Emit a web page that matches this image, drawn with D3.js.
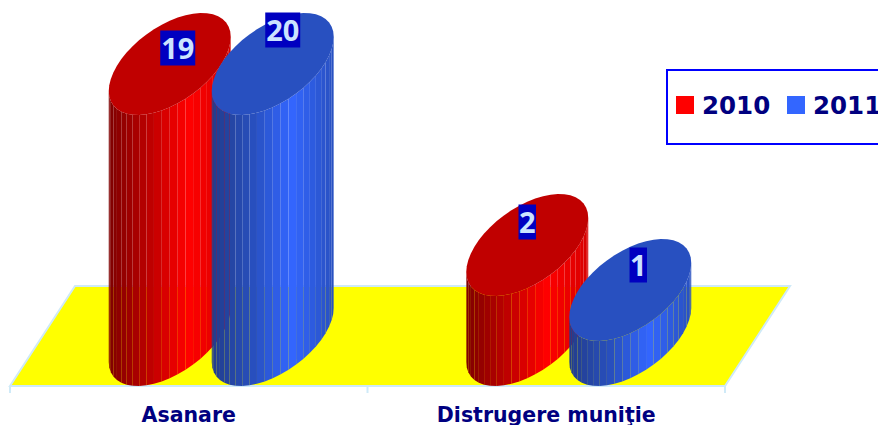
<!DOCTYPE html>
<html>
<head>
<meta charset="utf-8">
<script src="https://cdn.jsdelivr.net/npm/d3@7"></script>
<style>
  html, body { margin: 0; padding: 0; background: #fff; overflow: hidden; }
  text { font-family: "DejaVu Sans", sans-serif; font-weight: bold; }
</style>
</head>
<body>
<div id="chart"></div>
<script>
const categories = ["Asanare", "Distrugere muniţie"];
const seriesNames = ["2010", "2011"];
const values2010 = [19, 2];
const values2011 = [20, 1];

const width = 878, height = 425;
const floorY = 386, depthX = 65, depthY = 100;
const radX = 61, radY = 51, tilt = 32 * Math.PI / 180;
const facets = 24;

const seriesStyle = {
    "2010": { cap: "#c00000", swatch: "#ff0000", ramp: ["#7e0000", "#c00000", "#ff0000", "#d80000"] },
    "2011": { cap: "#2850c0", swatch: "#3366ff", ramp: ["#223c8c", "#2850c0", "#3366ff", "#2850c0"] }
};
// label nudges from the top of each cylinder
const labelShift = { "2010": [[8, -16], [0, -23]], "2011": [[10, -34], [8, -25]] };

const svg = d3.select("#chart").append("svg")
    .attr("width", width)
    .attr("height", height);

const x = d3.scaleBand().domain(categories).range([10, 725]);
const xSeries = d3.scalePoint().domain(seriesNames).range([-51, 52]);
// the 3D chart squeezes the tall bars, 19 and 20 end up at the same height
const y = d3.scaleLinear().domain([0, 1, 2, 19]).range([335, 290, 245, 64]).clamp(true);

// floor
svg.append("path")
    .attr("d", d3.line()([[10, floorY], [10 + depthX, floorY - depthY], [725 + depthX, floorY - depthY], [725, floorY]]) + "Z")
    .attr("fill", "#ffff00")
    .attr("stroke", "#cfeaf8")
    .attr("stroke-width", 2);

svg.append("g").selectAll("line")
    .data([10, 725].concat(x(categories[1])))
    .join("line")
    .attr("x1", d => d).attr("x2", d => d)
    .attr("y1", floorY).attr("y2", floorY + 7)
    .attr("stroke", "#cfeaf8")
    .attr("stroke-width", 2);

const ellipsePoint = (cx, cy, t) => [cx + radX * Math.cos(t), cy - radY * Math.sin(t + tilt)];

const drawCylinder = (cat, i, name, value) => {
    const style = seriesStyle[name];
    const cx = x(cat) + x.bandwidth() / 2 + 32 + xSeries(name);
    const top = y(value), bottom = y(0);
    const shade = d3.scaleLinear().domain([0, 0.35, 0.65, 1]).range(style.ramp);
    const g = svg.append("g");

    const strips = d3.range(facets).map(k => {
        const t0 = Math.PI + k * Math.PI / facets;
        const t1 = t0 + Math.PI / facets;
        return { t0, t1, u: (1 + Math.cos((t0 + t1) / 2)) / 2 };
    });

    g.selectAll("path.strip")
        .data(strips)
        .join("path")
        .attr("class", "strip")
        .attr("d", d => d3.line()([
            ellipsePoint(cx, top, d.t0), ellipsePoint(cx, top, d.t1),
            ellipsePoint(cx, bottom, d.t1), ellipsePoint(cx, bottom, d.t0)
        ]) + "Z")
        .attr("fill", d => shade(d.u));

    g.append("path")
        .attr("d", d3.line()(d3.range(48).map(k => ellipsePoint(cx, top, k * 2 * Math.PI / 48))) + "Z")
        .attr("fill", style.cap);

    const [dx, dy] = labelShift[name][i];
    const label = String(value);
    const boxW = label.length * 17.5, boxH = 35;
    g.append("rect")
        .attr("x", cx + dx - boxW / 2)
        .attr("y", top + dy - boxH / 2)
        .attr("width", boxW)
        .attr("height", boxH)
        .attr("fill", "#0000c0");
    g.append("text")
        .text(label)
        .attr("x", cx + dx)
        .attr("y", top + dy + 10.5)
        .attr("text-anchor", "middle")
        .attr("fill", "#cce4ff")
        .style("font-family", "'Noto Sans', sans-serif")
        .style("font-weight", 700)
        .attr("font-size", 29);
};

categories.forEach((cat, i) => {
    drawCylinder(cat, i, "2010", values2010[i]);
    drawCylinder(cat, i, "2011", values2011[i]);
});

// category labels
svg.append("g").selectAll("text")
    .data(categories)
    .join("text")
    .text(d => d)
    .attr("x", d => x(d) + x.bandwidth() / 2)
    .attr("y", 422)
    .attr("text-anchor", "middle")
    .attr("fill", "#000080")
    .attr("font-size", 20.5);

// legend
const legend = svg.append("g");
legend.append("rect")
    .attr("x", 667).attr("y", 70)
    .attr("width", 240).attr("height", 74)
    .attr("fill", "#fff")
    .attr("stroke", "#0000ff")
    .attr("stroke-width", 2);

const legendX = d3.scalePoint().domain(seriesNames).range([676, 787]);
legend.selectAll("rect.swatch")
    .data(seriesNames)
    .join("rect")
    .attr("class", "swatch")
    .attr("x", d => legendX(d))
    .attr("y", 96)
    .attr("width", 18).attr("height", 18)
    .attr("fill", d => seriesStyle[d].swatch);
legend.selectAll("text")
    .data(seriesNames)
    .join("text")
    .text(d => d)
    .attr("x", d => legendX(d) + 26)
    .attr("y", 114)
    .attr("fill", "#000080")
    .attr("font-size", 24.5);
</script>
</body>
</html>
